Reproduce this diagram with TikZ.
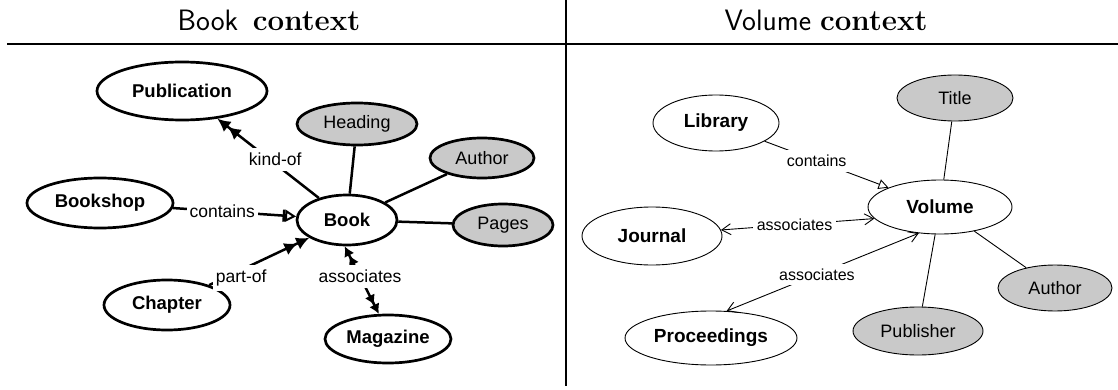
\documentclass[tikz,border=0pt]{standalone}
\usepackage{fontspec}
\newfontfamily\arial{Liberation Sans}
\usetikzlibrary{shapes.geometric,arrows.meta}

\begin{document}
\begin{tikzpicture}[x=1pt,y=-1pt,
  % left panel: heavy strokes
  ent/.style={ellipse, draw, line width=2.7pt, inner sep=0pt, fill=white,
    font=\arial\bfseries\fontsize{18.5}{20}\selectfont},
  att/.style={ent, fill=gray!42, font=\arial\fontsize{18}{20}\selectfont},
  lk/.style={line width=2.5pt},
  lab/.style={fill=white, inner xsep=3pt, inner ysep=5pt, font=\arial\fontsize{17.5}{20}\selectfont},
  dbltip/.style={-{Latex[length=13pt,width=13pt]Latex[length=13pt,width=13pt]}},
  dblboth/.style={{Latex[length=10pt,width=11pt]Latex[length=10pt,width=11pt]}-{Latex[length=10pt,width=11pt]Latex[length=10pt,width=11pt]}},
  opentip/.style={-{Bar[width=12pt]Triangle[open,length=11pt,width=12pt,line width=2pt]}},
  % right panel: thin strokes
  rent/.style={ellipse, draw, line width=0.9pt, inner sep=0pt, fill=white,
    font=\arial\bfseries\fontsize{19}{21}\selectfont},
  ratt/.style={rent, fill=gray!42, font=\arial\fontsize{18}{20}\selectfont},
  rlk/.style={line width=0.9pt},
  rlab/.style={fill=white, inner xsep=4pt, inner ysep=5pt, font=\arial\fontsize{16}{18}\selectfont},
  rtri/.style={-{Triangle[open,length=10pt,width=10pt]}},
  rbarb/.style={{Straight Barb[length=9pt,width=11pt]}-{Straight Barb[length=9pt,width=11pt]}},
  head/.style={anchor=base, font=\fontsize{29.5}{32}\selectfont}
]
\useasboundingbox (0,0) rectangle (1118,390);

% frame: titles, title rule and panel divider
\node[head] (bookhead) at (269,31) {{\sffamily Book}\hspace{0.5em}{\bfseries context}};
\node[head] (volhead) at (826,31) {{\sffamily Volume} {\bfseries context}};
\draw[line width=1.6pt] (7,44) -- (1118,44);
\draw[line width=1.3pt] (566,0) -- (566,386);

% ---- Book context ----
\node[ent, minimum width=170pt, minimum height=58pt] (pub) at (182,91) {Publication};
\node[ent, minimum width=146pt, minimum height=50pt] (shop) at (100,203) {Bookshop};
\node[ent, minimum width=100pt, minimum height=50pt] (book) at (347,220) {Book};
\node[ent, minimum width=126pt, minimum height=50pt] (chap) at (167,305) {Chapter};
\node[ent, minimum width=126pt, minimum height=48pt] (mag) at (388,339) {Magazine};
\node[att, minimum width=120pt, minimum height=42pt] (heading) at (357,124) {Heading};
\node[att, minimum width=104pt, minimum height=40pt] (bauthor) at (482,158) {Author};
\node[att, minimum width=100pt, minimum height=42pt] (pages) at (503,225) {Pages};

\draw[lk] (heading) -- (book);
\draw[lk] (bauthor) -- (book);
\draw[lk] (pages) -- (book);
\draw[lk, dbltip] (book) -- node[lab, pos=0.45, xshift=2pt, yshift=3pt] (kindof) {kind-of} (pub);
\draw[lk, opentip] (shop) -- node[lab, pos=0.4] (contl) {contains} (book);
\draw[lk, dbltip] (chap) -- node[lab, pos=0.32, yshift=-8pt] (partof) {part-of} (book);
\draw[lk, dblboth] (book.265) -- node[lab, pos=0.45] (assocl) {associates} (mag.110);

% ---- Volume context ----
\node[rent, minimum width=126pt, minimum height=56pt] (lib) at (716,123) {Library};
\node[rent, minimum width=140pt, minimum height=58pt] (jour) at (652,236) {Journal};
\node[rent, minimum width=144pt, minimum height=54pt] (vol) at (940,207) {Volume};
\node[rent, minimum width=172pt, minimum height=54pt] (proc) at (711,338) {Proceedings};
\node[ratt, minimum width=116pt, minimum height=46pt] (title) at (955,98) {Title};
\node[ratt, minimum width=114pt, minimum height=46pt] (vauthor) at (1055,288) {Author};
\node[ratt, minimum width=130pt, minimum height=48pt] (publ) at (918,331) {Publisher};

\draw[rlk] (title) -- (vol);
\draw[rlk] (vol) -- (publ);
\draw[rlk] (vol) -- (vauthor);
\draw[rlk, rtri] (lib) -- node[rlab, pos=0.42] (contr) {contains} (vol);
\draw[rlk, rbarb] (jour.5) -- node[rlab, pos=0.48] (assocj) {associates} (vol.190);
\draw[rlk, rbarb] (proc.60) -- node[rlab, pos=0.47] (assocp) {associates} (vol.231);
\end{tikzpicture}
\end{document}
